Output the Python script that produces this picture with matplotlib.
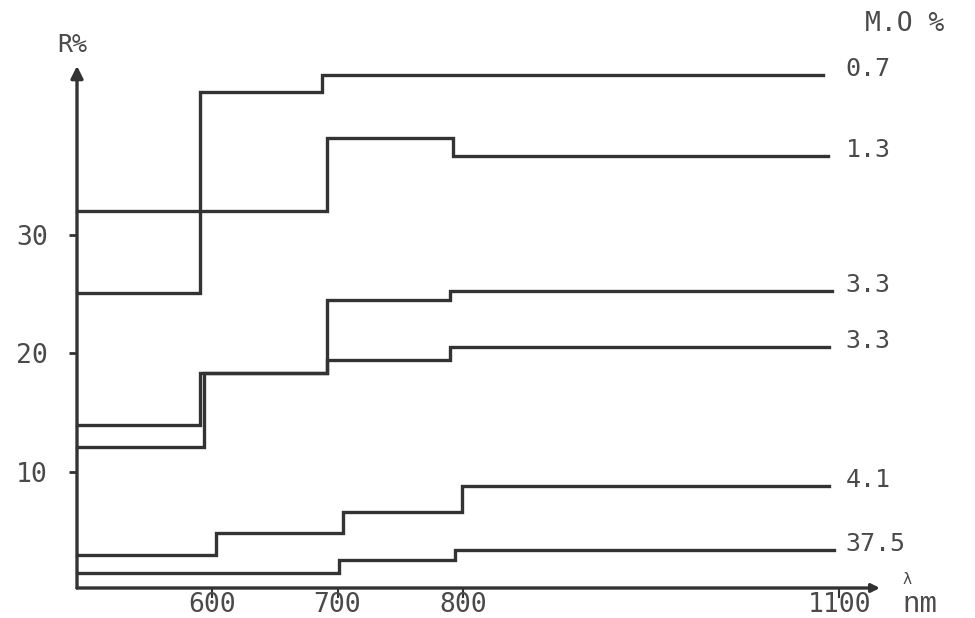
import matplotlib
matplotlib.use("Agg")
import matplotlib.pyplot as plt

# ---- data ----
labels = ["0.7", "1.3", "3.3", "3.3", "4.1", "37.5"]
x_07 = [492.4, 590.4, 687.6, 1087]
r_07 = [25.1, 42.1, 43.5, 43.5]
x_13 = [492.4, 691.6, 792.0, 1091]
r_13 = [32.0, 38.2, 36.7, 36.7]
x_33a = [492.4, 590.4, 691.6, 789.6, 1094]
r_33a = [13.9, 18.3, 24.5, 25.3, 25.3]
x_33b = [492.4, 593.6, 691.6, 789.6, 1092]
r_33b = [12.1, 18.3, 19.4, 20.5, 20.5]
x_41 = [492.4, 603.2, 704.4, 799.2, 1092]
r_41 = [2.9, 4.8, 6.6, 8.8, 8.8]
x_375 = [492.4, 701.2, 793.6, 1096]
r_375 = [1.4, 2.5, 3.4, 3.4]
xticks = [600, 700, 800, 1100]
yticks = [10, 20, 30]

series_x = [x_07, x_13, x_33a, x_33b, x_41, x_375]
series_r = [r_07, r_13, r_33a, r_33b, r_41, r_375]

W, H = 975, 618
fig = plt.figure(figsize=(W / 100, H / 100), dpi=100)
ax = fig.add_axes([77 / W, (H - 588) / H, (880 - 77) / W, (588 - 60) / H])
x0, x1 = 492.4, 1132.3
y0, y1 = 0.15, 44.8
ax.set_xlim(x0, x1)
ax.set_ylim(y0, y1)
for s in ax.spines.values():
    s.set_visible(False)

lc = "#333333"
tc = "#4a4a4a"
font = "DejaVu Sans Mono"

for xs, rs in zip(series_x, series_r):
    ax.step(xs, rs, where="post", color=lc, lw=2.4, solid_joinstyle="miter",
            clip_on=False)

# axes with arrows
ax.annotate("", xy=(x0, 44.3), xytext=(x0, y0),
            arrowprops=dict(arrowstyle="-|>", lw=2.4, color=lc,
                            mutation_scale=18, shrinkA=0, shrinkB=0),
            annotation_clip=False)
ax.annotate("", xy=(x1, y0), xytext=(x0, y0),
            arrowprops=dict(arrowstyle="-|>", lw=2.4, color=lc,
                            mutation_scale=12, shrinkA=0, shrinkB=0),
            annotation_clip=False)

ax.set_xticks(xticks)
ax.set_xticklabels([str(t) for t in xticks])
ax.set_yticks(yticks)
ax.set_yticklabels([str(t) for t in yticks])
ax.tick_params(axis="x", direction="out", length=7, width=1.5, color=lc,
               pad=-4, labelsize=19, labelcolor=tc)
ax.tick_params(axis="y", direction="out", length=6, width=2, color=lc,
               pad=15, labelsize=19, labelcolor=tc)
for lab in ax.get_xticklabels() + ax.get_yticklabels():
    lab.set_fontfamily(font)

# series labels
for xs, rs, lab in zip(series_x, series_r, labels):
    ax.text(1105, rs[-1] + 0.5, lab, ha="left", va="center", fontsize=18,
            color=tc, family=font, clip_on=False)

fig.text(72 / W, 1 - 45 / H, "R%", ha="center", va="center", fontsize=18,
         color=tc, family=font)
fig.text(905 / W, 1 - 24 / H, "M.O %", ha="center", va="center", fontsize=19,
         color=tc, family=font)
fig.text(920 / W, 1 - 604 / H, "nm", ha="center", va="center", fontsize=21,
         color=tc, family="Liberation Mono")
fig.text(907 / W, 1 - 579 / H, "λ", ha="center", va="center", fontsize=11,
         color=tc, family=font)

fig.savefig("out.png", dpi=100, facecolor="white")
